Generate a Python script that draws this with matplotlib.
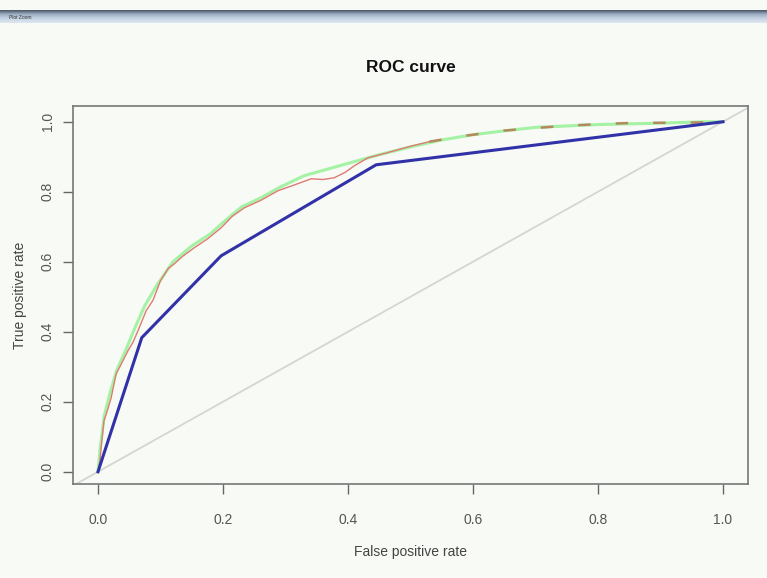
import numpy as np
import matplotlib.pyplot as plt

plt.rcParams['font.family'] = ['Liberation Sans', 'DejaVu Sans']

# Blue curve (coarse classifier)
blue_fpr = [0.0, 0.07, 0.197, 0.445, 1.0]
blue_tpr = [0.0, 0.383, 0.617, 0.877, 1.0]

# Red curve (solid part)
red_fpr = [0.0, 0.003, 0.005, 0.0096, 0.015, 0.021, 0.029, 0.035, 0.048, 0.056, 0.064,
           0.077, 0.088, 0.10, 0.112, 0.122, 0.135, 0.154, 0.175, 0.197, 0.215, 0.234,
           0.26, 0.288, 0.315, 0.341, 0.36, 0.378, 0.395, 0.41, 0.432, 0.46, 0.50, 0.53]
red_tpr = [0.0, 0.03, 0.069, 0.146, 0.175, 0.211, 0.28, 0.30, 0.346, 0.37, 0.403,
           0.46, 0.49, 0.546, 0.58, 0.594, 0.615, 0.64, 0.665, 0.697, 0.73, 0.754,
           0.775, 0.803, 0.82, 0.837, 0.835, 0.84, 0.855, 0.874, 0.897, 0.91, 0.93, 0.943]

# Red curve (dashed upper part)
red_dash_fpr = [0.53, 0.58, 0.645, 0.70, 0.752, 0.80, 0.858, 0.90, 0.965, 1.0]
red_dash_tpr = [0.943, 0.958, 0.974, 0.982, 0.989, 0.993, 0.997, 0.997, 0.998, 1.0]

# Green curve
green_fpr = [0.0, 0.003, 0.01, 0.02, 0.03, 0.045, 0.06, 0.075, 0.095, 0.12, 0.15, 0.18,
             0.2, 0.23, 0.26, 0.29, 0.33, 0.37, 0.41, 0.45, 0.5, 0.55, 0.6, 0.65, 0.7,
             0.8, 0.9, 0.97, 1.0]
green_tpr = [0.0, 0.06, 0.16, 0.23, 0.29, 0.35, 0.415, 0.475, 0.535, 0.60, 0.645, 0.68,
             0.712, 0.757, 0.782, 0.812, 0.846, 0.866, 0.886, 0.906, 0.928, 0.948, 0.963,
             0.974, 0.984, 0.992, 0.996, 1.0, 1.0]

ticks = [0.0, 0.2, 0.4, 0.6, 0.8, 1.0]
tick_labels = ['0.0', '0.2', '0.4', '0.6', '0.8', '1.0']

bg = '#f8faf6'
fig = plt.figure(figsize=(7.67, 5.78), dpi=100, facecolor=bg)

# window title bar of the screenshot
bar = fig.add_axes([0, 1 - 23 / 578, 1, 13 / 578])
grad = np.linspace(0, 1, 50).reshape(-1, 1)
bar.imshow(grad, aspect='auto', cmap=plt.matplotlib.colors.LinearSegmentedColormap.from_list(
    'bar', ['#4a5563', '#9fb2c8', '#c6d4e4', '#dfe7f0']), extent=[0, 1, 0, 1])
bar.text(0.012, 0.45, 'Plot Zoom', fontsize=3.5, color='#333333', va='center')
bar.axis('off')

ax = fig.add_axes([73 / 767, 1 - 484 / 578, 675 / 767, 378 / 578])
ax.set_facecolor(bg)

ax.axline((0, 0), (1, 1), color='#d4d6d4', lw=1.3, zorder=1)
ax.plot(green_fpr, green_tpr, color='#a4f2a4', lw=2.2, zorder=2, solid_capstyle='round')
ax.plot(red_fpr, red_tpr, color='#e07a72', lw=1.0, zorder=3)
ax.plot(red_dash_fpr, red_dash_tpr, color='#b5895e', lw=1.8, zorder=3,
        linestyle=(0, (5, 10)))
ax.plot(blue_fpr, blue_tpr, color='#3232a8', lw=2.2, zorder=4)

ax.set_xlim(-0.04, 1.04)
ax.set_ylim(-0.035, 1.045)
ax.set_xticks(ticks)
ax.set_xticklabels(tick_labels)
ax.set_yticks(ticks)
ax.set_yticklabels(tick_labels, rotation=90, va='center')
ax.tick_params(axis='both', direction='out', length=7, width=1, color='#666666',
               labelcolor='#555555', labelsize=10)
ax.tick_params(axis='x', pad=14)
ax.tick_params(axis='y', pad=6)
for s in ax.spines.values():
    s.set_color('#777777')
    s.set_linewidth(1.2)

ax.set_xlabel('False positive rate', fontsize=10, color='#444444', labelpad=13)
ax.set_ylabel('True positive rate', fontsize=10, color='#444444', labelpad=10)
fig.text(411 / 767, 1 - 68 / 578, 'ROC curve', fontsize=12.5, fontweight='bold',
         ha='center', va='center', color='#111111')

fig.savefig('out.png', dpi=100, facecolor=bg)
